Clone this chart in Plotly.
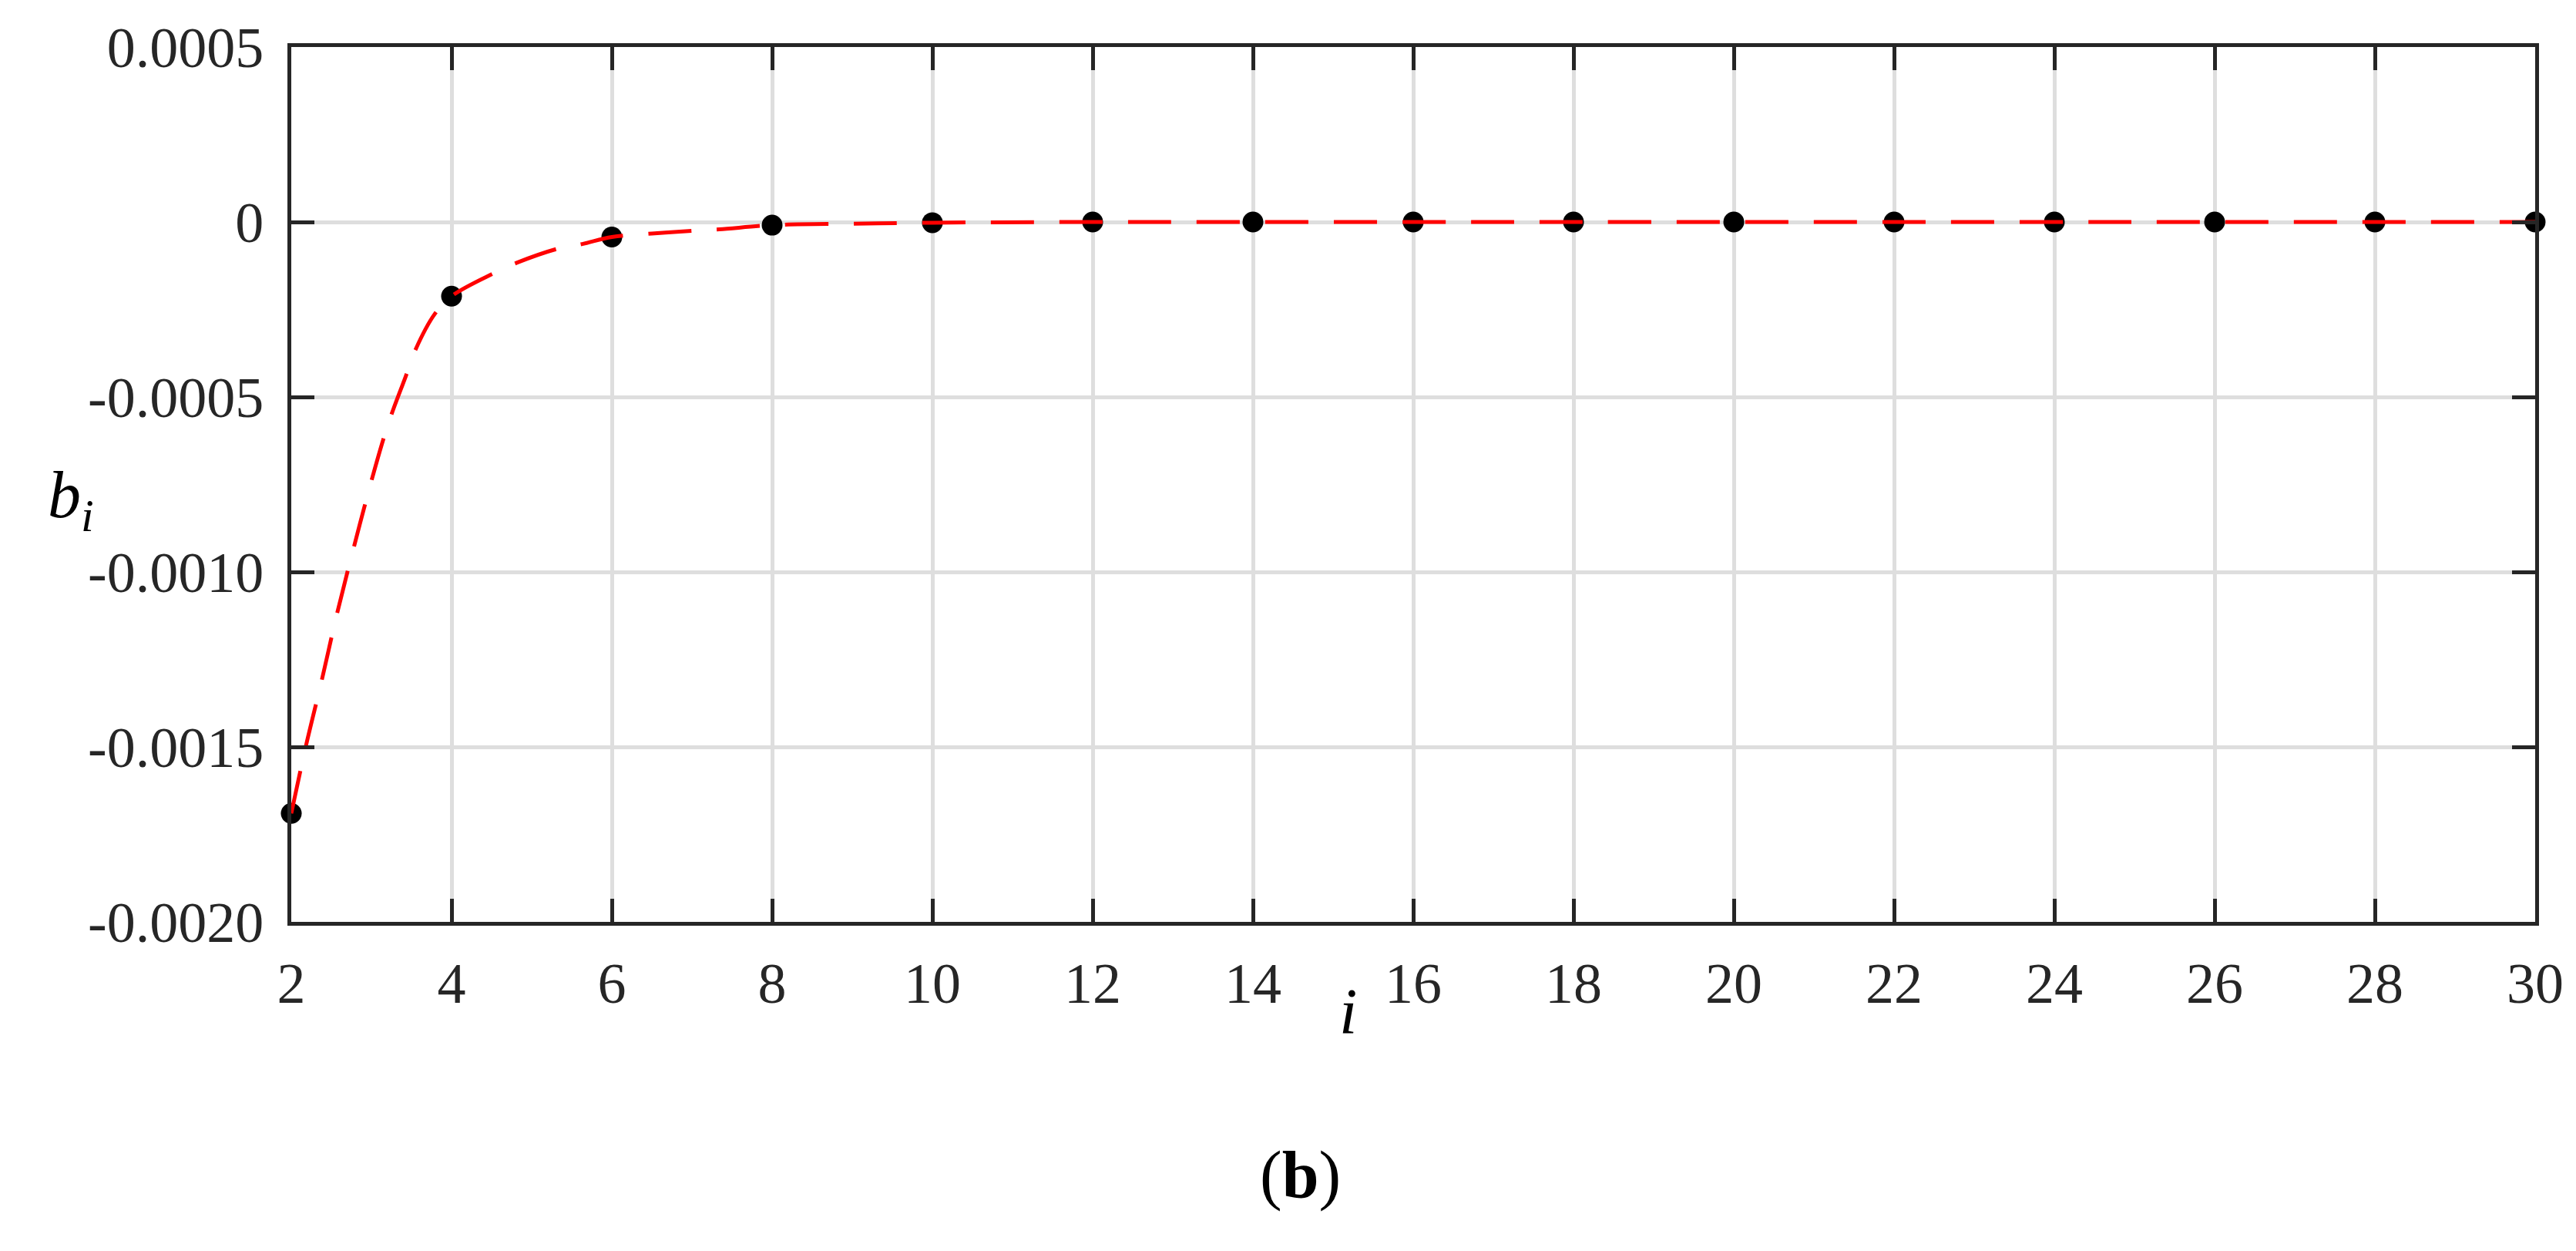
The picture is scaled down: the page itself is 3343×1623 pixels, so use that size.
import plotly.graph_objects as go

# Data
i_points = [2, 4, 6, 8, 10, 12, 14, 16, 18, 20, 22, 24, 26, 28, 30]
b_points = [-0.00169, -0.000212, -0.000043, -0.000009, -0.000002, 0.0, 0.0, 0.0,
            0.0, 0.0, 0.0, 0.0, 0.0, 0.0, 0.0]

# Fitted (dashed) curve
curve_i = [2, 2.18, 2.38, 2.57, 2.78, 3.0, 3.15, 3.25, 3.43, 3.55, 3.79, 4.0,
           4.52, 4.82, 5.33, 5.63, 6.0, 6.5, 7.0, 7.34, 8.0, 9.0, 10.0, 12.0,
           16.0, 20.0, 25.0, 30.0]
curve_b = [-0.00169, -0.00150, -0.00131, -0.00112, -0.00093, -0.00074, -0.00062,
           -0.00055, -0.00044, -0.000365, -0.000263, -0.000212, -0.000147,
           -0.000116, -0.000076, -0.000063, -0.000043, -0.000033, -0.000025,
           -0.000021, -0.000009, -0.000005, -0.000002, 0.0, 0.0, 0.0, 0.0, 0.0]

x_ticks = list(range(2, 31, 2))
y_ticks = [0.0005, 0, -0.0005, -0.0010, -0.0015, -0.0020]
y_tick_text = ["0.0005", "0", "-0.0005", "-0.0010", "-0.0015", "-0.0020"]

W, H = 3343, 1623
L, R, T, B = 370, 61, 53, 435
pw, ph = W - L - R, H - T - B

def px(xp):
    return (xp - L) / pw

def py(yp):
    return (H - B - yp) / ph

FONT = "Liberation Serif"
INK = "#262626"

fig = go.Figure()
fig.add_trace(go.Scatter(x=i_points, y=b_points, mode="markers",
                         marker=dict(color="black", size=27),
                         showlegend=False, cliponaxis=False))
fig.add_trace(go.Scatter(x=curve_i, y=curve_b, mode="lines", line_shape="spline",
                         line=dict(color="#ff0000", width=5, dash="56px,33px"),
                         showlegend=False, cliponaxis=False))

axis_common = dict(showline=True, linecolor=INK, linewidth=5, mirror="ticks",
                   ticks="inside", ticklen=30, tickwidth=5, tickcolor=INK,
                   showgrid=True, gridcolor="#dedede", gridwidth=5,
                   zeroline=False,
                   tickfont=dict(family=FONT, size=74, color=INK))

fig.update_xaxes(range=[2, 30], tickvals=x_ticks, ticktext=[str(v) for v in x_ticks],
                 ticklabelstandoff=11, **axis_common)
fig.update_yaxes(range=[-0.0020, 0.0005], tickvals=y_ticks, ticktext=y_tick_text,
                 ticklabelstandoff=16, **axis_common)

fig.add_annotation(text="<i>b</i><sub><i>i</i></sub>", xref="paper", yref="paper",
                   x=px(52), y=py(640), showarrow=False,
                   font=dict(family=FONT, size=86, color="black"))
fig.add_annotation(text="<i>i</i>", xref="paper", yref="paper",
                   x=px(1741), y=py(1353), showarrow=False,
                   font=dict(family=FONT, size=84, color="black"))
fig.add_annotation(text="(<b>b</b>)", xref="paper", yref="paper",
                   x=px(1679), y=py(1566), showarrow=False,
                   font=dict(family=FONT, size=86, color="black"))

fig.update_layout(width=W, height=H, margin=dict(l=L, r=R, t=T, b=B),
                  paper_bgcolor="white", plot_bgcolor="white")

fig.write_html("out.html")
